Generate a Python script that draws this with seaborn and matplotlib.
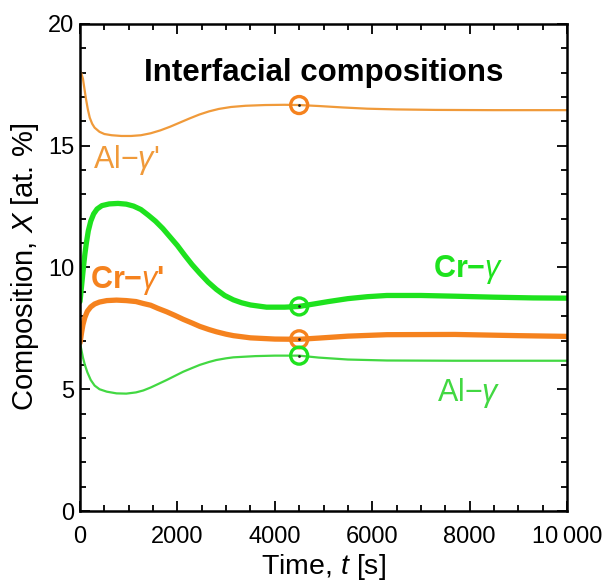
import numpy as np
import pandas as pd
import matplotlib
matplotlib.use("Agg")
import matplotlib.pyplot as plt
from matplotlib.ticker import MultipleLocator
import seaborn as sns

# Interfacial compositions vs time
t_al_gp = [0, 30, 60, 90, 120, 160, 200, 250, 300, 400, 500, 650, 850, 1050,
           1250, 1450, 1650, 1850, 2050, 2250, 2450, 2650, 2850, 3100, 3400,
           3800, 4200, 4500, 4900, 5400, 5900, 6500, 7300, 8500, 10000]
al_gp = [18.1, 17.95, 17.75, 17.35, 16.95, 16.5, 16.15, 15.9, 15.74, 15.57,
         15.48, 15.43, 15.40, 15.40, 15.43, 15.51, 15.63, 15.78, 15.95, 16.12,
         16.28, 16.41, 16.51, 16.59, 16.64, 16.67, 16.68, 16.67, 16.63, 16.57,
         16.52, 16.49, 16.47, 16.46, 16.46]

t_cr_g = [0, 25, 50, 75, 100, 130, 170, 220, 280, 350, 450, 600, 780, 950,
          1100, 1250, 1400, 1550, 1700, 1850, 2000, 2150, 2300, 2460, 2630,
          2800, 2970, 3150, 3320, 3500, 3830, 4200, 4500, 4800, 5100, 5500,
          5900, 6300, 7000, 7700, 8500, 9300, 10000]
cr_g = [8.6, 9.1, 9.6, 10.1, 10.55, 11.0, 11.5, 11.9, 12.2, 12.4, 12.54, 12.61,
        12.63, 12.6, 12.52, 12.38, 12.15, 11.9, 11.6, 11.25, 10.9, 10.5, 10.12,
        9.76, 9.4, 9.1, 8.85, 8.67, 8.55, 8.46, 8.37, 8.37, 8.4, 8.5, 8.6,
        8.72, 8.8, 8.85, 8.85, 8.82, 8.78, 8.75, 8.74]

t_cr_gp = [0, 30, 60, 100, 150, 220, 300, 400, 550, 750, 950, 1150, 1300, 1450,
           1600, 1780, 1950, 2120, 2300, 2460, 2650, 2800, 3000, 3150, 3500,
           4000, 4500, 4900, 5500, 6300, 7700, 9000, 10000]
cr_gp = [6.9, 7.3, 7.65, 7.95, 8.2, 8.38, 8.5, 8.58, 8.64, 8.66, 8.64, 8.6,
         8.52, 8.45, 8.32, 8.18, 8.03, 7.87, 7.72, 7.58, 7.45, 7.36, 7.26, 7.2,
         7.11, 7.06, 7.05, 7.1, 7.18, 7.24, 7.25, 7.2, 7.17]

t_al_g = [0, 30, 60, 100, 150, 220, 300, 400, 550, 750, 950, 1150, 1300, 1450,
          1600, 1780, 1950, 2120, 2300, 2460, 2650, 2800, 3000, 3150, 3600,
          4000, 4500, 4900, 5500, 6300, 7700, 10000]
al_g = [6.9, 6.6, 6.3, 6.0, 5.7, 5.38, 5.15, 5.0, 4.9, 4.83, 4.82, 4.87, 4.95,
        5.07, 5.21, 5.38, 5.55, 5.72, 5.87, 6.0, 6.12, 6.2, 6.27, 6.31, 6.36,
        6.38, 6.38, 6.3, 6.22, 6.18, 6.17, 6.17]

# circled points at t = 4500 s
mark_t = [4500, 4500, 4500, 4500]
mark_x = [16.67, 8.40, 7.05, 6.38]
mark_phase = ["orange", "green", "orange", "green"]

ORANGE = "#F5821E"
ORANGE_THIN = "#F09A3A"
GREEN = "#1EE21E"
GREEN_THIN = "#42D842"

sns.set_theme(style="ticks")
plt.rcParams["font.family"] = ["Liberation Sans", "DejaVu Sans"]
plt.rcParams["mathtext.fontset"] = "custom"
plt.rcParams["mathtext.it"] = "Liberation Sans:italic"
plt.rcParams["mathtext.rm"] = "Liberation Sans"

fig = plt.figure(figsize=(6.08, 5.84), dpi=100)
ax = fig.add_axes([0.1316, 0.125, 0.8010, 0.834])

sns.lineplot(x=t_al_gp, y=al_gp, ax=ax, color=ORANGE_THIN, linewidth=1.6,
             estimator=None, sort=False)
sns.lineplot(x=t_cr_g, y=cr_g, ax=ax, color=GREEN, linewidth=3.8,
             estimator=None, sort=False)
sns.lineplot(x=t_cr_gp, y=cr_gp, ax=ax, color=ORANGE, linewidth=3.8,
             estimator=None, sort=False)
sns.lineplot(x=t_al_g, y=al_g, ax=ax, color=GREEN_THIN, linewidth=1.6,
             estimator=None, sort=False)

marks = pd.DataFrame({"t": mark_t, "x": mark_x, "phase": mark_phase})
for phase, col in [("orange", ORANGE), ("green", GREEN)]:
    sub = marks[marks["phase"] == phase]
    sns.scatterplot(data=sub, x="t", y="x", ax=ax, marker="o", s=150,
                    facecolors="none", edgecolor=col, linewidth=2.4, zorder=5)
    sns.scatterplot(data=sub, x="t", y="x", ax=ax, marker="o", s=4,
                    color="#222222", linewidth=0, zorder=6)

# labels on the curves
ax.text(270, 14.4, "Al\u2212$\\gamma$'", color=ORANGE_THIN, fontsize=22,
        ha="left", va="center")
ax.text(200, 9.45, "Cr\u2212$\\gamma$'", color=ORANGE, fontsize=22,
        fontweight="bold", ha="left", va="center")
ax.text(7250, 9.9, "Cr\u2212$\\gamma$", color=GREEN, fontsize=22,
        fontweight="bold", ha="left", va="center")
ax.text(7330, 4.85, "Al\u2212$\\gamma$", color=GREEN_THIN, fontsize=22,
        ha="left", va="center")
ax.text(5000, 18.0, "Interfacial compositions", color="black", fontsize=22.5,
        fontweight="bold", ha="center", va="center")

ax.set_xlim(0, 10000)
ax.set_ylim(0, 20)
ax.xaxis.set_major_locator(MultipleLocator(2000))
ax.xaxis.set_minor_locator(MultipleLocator(500))
ax.yaxis.set_major_locator(MultipleLocator(5))
ax.yaxis.set_minor_locator(MultipleLocator(1))
ax.set_xticks([0, 2000, 4000, 6000, 8000, 10000])
ax.set_xticklabels(["0", "2000", "4000", "6000", "8000", "10\u2009000"])
ax.tick_params(which="both", direction="in", top=True, right=True,
               labelsize=17, width=1.3, colors="black")
ax.tick_params(axis="x", which="both", pad=11)
ax.tick_params(axis="y", which="both", pad=4)
ax.tick_params(which="major", length=7)
ax.tick_params(which="minor", length=4)
for sp in ax.spines.values():
    sp.set_linewidth(1.8)
    sp.set_color("black")

ax.set_xlabel("Time, $t$ [s]", fontsize=20.5, labelpad=3, color="black")
ax.set_ylabel("Composition, $X$ [at. %]", fontsize=21, labelpad=5,
              color="black")

fig.savefig("out.png", dpi=100)
